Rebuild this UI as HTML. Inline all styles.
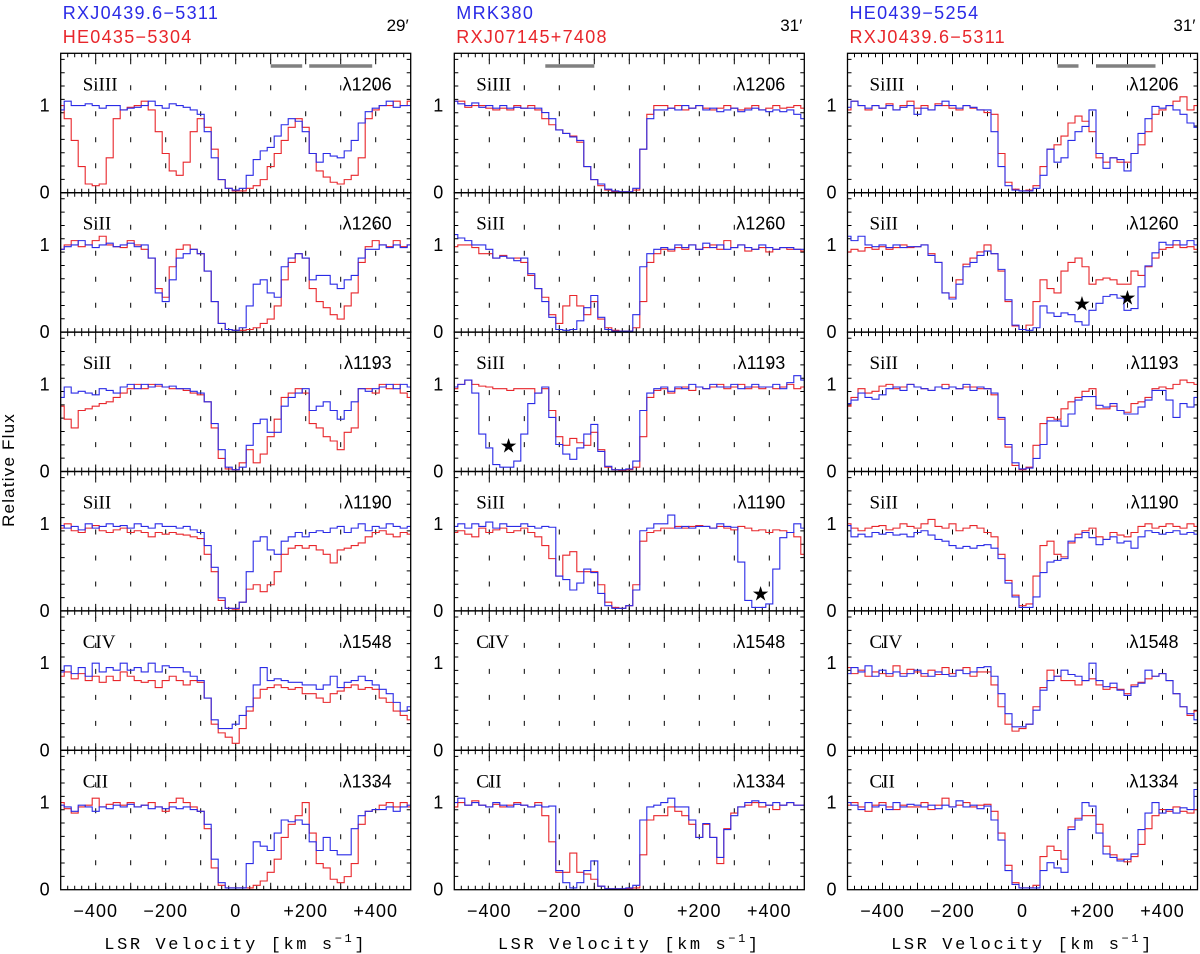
<!DOCTYPE html>
<html><head><meta charset="utf-8">
<style>
html,body{margin:0;padding:0;background:#fff;}
svg{display:block;font-family:"Liberation Sans",sans-serif;}
</style></head>
<body>
<svg id="chart" width="1200" height="954" viewBox="0 0 1200 954" xmlns="http://www.w3.org/2000/svg"></svg>
<script>
// ---- data ----
const velStart = -500; const velStep = 20;
const xTicks = [-400,-200,0,200,400];
const xTickLabels = ["\u2212400","\u2212200","0","+200","+400"];
const ions = ["SiIII","SiII","SiII","SiII","CIV","CII"];
const lines = ["\u03bb1206","\u03bb1260","\u03bb1193","\u03bb1190","\u03bb1548","\u03bb1334"];
const blueNames = ["RXJ0439.6\u22125311","MRK380","HE0439\u22125254"];
const redNames = ["HE0435\u22125304","RXJ07145+7408","RXJ0439.6\u22125311"];
const seps = ["29\u2032","31\u2032","31\u2032"];

const c1r1B=[0.95,1.05,1.0,1.0,1.02,1.0,0.97,1.0,1.0,0.95, 0.97,0.98,1.0,1.05,1.0,0.97,1.02,1.0,0.98,0.95, 0.9,0.7,0.4,0.15,0.05, 0.03, 0.05,0.2,0.38,0.48,0.52,0.65,0.78,0.85,0.82,0.7, 0.45,0.35,0.45,0.42,0.4,0.48,0.6,0.8,0.93,0.97, 1.0,1.05,0.98,1.0,1.0];
const c1r1R=[1.0,0.85,0.6,0.3,0.1,0.08,0.1,0.4,0.85,0.95, 0.98,1.0,1.05,0.95,0.7,0.45,0.25,0.2,0.35,0.7, 0.85,0.75,0.5,0.15,0.05, 0.02, 0.02,0.05,0.08,0.15,0.3,0.45,0.6,0.75,0.85,0.75, 0.45,0.25,0.18,0.12,0.1,0.15,0.2,0.4,0.85,0.95, 1.0,1.0,1.05,1.0,1.05];
const c1r2B=[0.95,0.98,1.0,1.05,1.0,0.97,1.0,1.02,0.98,1.0, 1.02,0.98,1.0,0.85,0.45,0.35,0.6,0.85,0.9,0.95, 0.9,0.7,0.35,0.1,0.03, 0.02, 0.05,0.3,0.55,0.6,0.45,0.4,0.75,0.85,0.9,0.85, 0.6,0.65,0.65,0.55,0.5,0.6,0.65,0.85,0.95,0.95, 1.0,0.97,1.0,0.97,1.0];
const c1r2R=[0.95,1.0,1.05,0.98,1.0,1.05,1.1,1.0,0.98,0.97, 1.05,1.0,0.95,0.85,0.5,0.4,0.75,0.95,1.0,0.95, 0.9,0.7,0.35,0.1,0.03, 0.02, 0.02,0.03,0.05,0.1,0.15,0.3,0.6,0.8,0.9,0.85, 0.5,0.35,0.28,0.2,0.15,0.3,0.45,0.8,0.98,1.05, 1.0,0.98,1.05,0.98,1.0];
const c1r3B=[0.85,0.97,0.9,0.92,0.9,0.88,0.95,0.93,0.9,0.97, 1.0,0.95,1.0,0.97,1.0,0.97,0.98,0.95,0.95,0.92, 0.9,0.8,0.55,0.25,0.05, 0.02, 0.05,0.3,0.55,0.6,0.45,0.45,0.75,0.85,0.9,0.95, 0.7,0.75,0.8,0.7,0.6,0.7,0.8,0.95,0.92,0.95, 0.97,1.0,0.95,1.0,0.97];
const c1r3R=[0.75,0.6,0.5,0.7,0.72,0.75,0.78,0.8,0.85,0.9, 0.95,1.0,0.95,1.0,0.98,0.97,0.95,0.95,0.93,0.9, 0.88,0.8,0.5,0.15,0.03, 0.02, 0.1,0.25,0.1,0.2,0.4,0.6,0.85,0.9,0.95,0.9, 0.55,0.5,0.4,0.35,0.25,0.45,0.5,0.95,0.95,0.9, 1.0,0.95,1.0,0.9,0.85];
const c1r4B=[0.98,0.95,0.97,0.93,1.0,0.95,0.97,1.0,0.97,0.98, 0.95,1.0,0.97,0.95,1.0,0.97,0.97,0.95,0.97,0.93, 0.9,0.75,0.5,0.15,0.03, 0.03, 0.1,0.45,0.8,0.85,0.7,0.65,0.8,0.85,0.9,0.85, 0.9,0.92,0.9,0.95,0.97,0.9,0.95,1.0,0.92,0.97, 0.95,1.0,0.97,0.95,0.97];
const c1r4R=[0.95,1.0,0.92,0.9,0.95,0.98,0.92,0.9,0.93,0.95, 0.9,0.92,0.9,0.85,0.9,0.88,0.9,0.88,0.87,0.85, 0.83,0.65,0.45,0.12,0.03, 0.02, 0.1,0.25,0.3,0.22,0.3,0.45,0.65,0.72,0.75,0.72, 0.75,0.7,0.65,0.55,0.7,0.72,0.75,0.78,0.85,0.9, 0.92,0.88,0.85,0.9,0.88];
const c1r5B=[0.9,0.97,0.88,0.95,0.85,1.0,0.9,0.95,0.92,1.0, 0.92,0.95,0.9,1.0,0.9,0.97,0.95,0.95,0.9,0.85, 0.8,0.6,0.35,0.25,0.25, 0.3, 0.4,0.5,0.75,0.95,0.8,0.82,0.8,0.78,0.78,0.75, 0.75,0.7,0.75,0.85,0.72,0.78,0.8,0.85,0.8,0.75, 0.7,0.65,0.55,0.45,0.5];
const c1r5R=[0.85,0.9,0.82,0.88,0.8,0.85,0.78,0.85,0.8,0.9, 0.85,0.8,0.78,0.8,0.72,0.8,0.85,0.8,0.75,0.8, 0.78,0.6,0.3,0.2,0.15, 0.08, 0.25,0.45,0.6,0.7,0.72,0.75,0.72,0.7,0.72,0.65, 0.65,0.6,0.55,0.65,0.68,0.72,0.75,0.7,0.72,0.7, 0.6,0.55,0.45,0.4,0.35];
const c1r6B=[0.97,0.95,0.9,0.97,0.95,0.9,0.95,0.93,0.97,0.95, 0.98,0.95,0.97,0.93,0.95,0.93,0.95,0.93,0.95,0.92, 0.9,0.75,0.35,0.08,0.02, 0.02, 0.02,0.3,0.55,0.5,0.45,0.65,0.8,0.78,0.8,0.75, 0.55,0.45,0.6,0.45,0.4,0.4,0.7,0.85,0.9,0.92, 0.92,0.95,0.9,0.95,0.97];
const c1r6R=[1.0,0.93,0.88,0.95,0.97,1.05,0.95,0.98,1.0,0.97, 1.0,0.95,0.97,1.0,0.95,0.9,1.0,1.05,1.0,0.95, 0.9,0.7,0.25,0.05,0.02, 0.02, 0.02,0.02,0.05,0.1,0.2,0.35,0.6,0.75,0.85,1.0, 0.65,0.3,0.25,0.12,0.08,0.15,0.3,0.75,0.9,0.92, 0.97,1.0,0.95,1.0,0.95];

const c2r1B=[1.05,1.02,1.0,1.03,0.98,1.0,0.97,1.0,0.97,0.98, 0.97,0.97,0.97,0.92,0.85,0.72,0.68,0.64,0.6,0.3, 0.15,0.1,0.04,0.02,0.01, 0.01, 0.05,0.5,0.85,0.95,0.95,0.97,0.95,1.0,0.97,1.0, 0.95,0.97,0.93,0.95,0.97,0.93,0.95,0.97,0.95,0.93, 0.95,0.93,0.95,0.9,0.85];
const c2r1R=[1.05,1.05,0.98,1.0,1.0,0.97,0.95,0.97,0.95,1.0, 0.97,1.0,0.95,0.85,0.78,0.72,0.68,0.65,0.58,0.3, 0.15,0.08,0.03,0.01,0.01, 0.01, 0.03,0.5,0.9,1.0,1.0,0.97,1.0,0.95,0.97,1.0, 0.97,0.95,0.97,1.0,0.97,0.95,0.97,1.0,0.95,0.97, 1.0,0.97,0.98,1.0,0.97];
const c2r2B=[1.12,1.08,1.05,1.0,1.0,0.95,0.85,0.87,0.85,0.82, 0.85,0.67,0.5,0.35,0.17,0.03,0.02,0.03,0.13,0.28, 0.42,0.17,0.03,0.01,0.01, 0.01, 0.2,0.75,0.9,0.95,0.97,0.95,1.0,0.97,1.0,0.95, 1.02,0.97,1.0,0.95,0.97,1.0,0.97,0.95,1.0,0.97, 0.95,0.97,0.97,0.95,0.95];
const c2r2R=[0.98,1.0,1.0,0.97,0.9,0.9,0.85,0.88,0.85,0.85, 0.8,0.65,0.5,0.4,0.2,0.1,0.3,0.42,0.3,0.2, 0.35,0.15,0.05,0.02,0.01, 0.01, 0.05,0.35,0.8,0.9,0.95,0.93,0.97,0.95,1.0,0.95, 0.97,1.0,0.95,1.05,0.97,1.0,0.93,0.95,0.97,0.92, 0.95,0.97,0.95,0.95,0.93];
const c2r3B=[0.97,1.0,1.05,0.9,0.43,0.27,0.08,0.05,0.05,0.12, 0.43,0.78,0.9,0.97,0.62,0.31,0.2,0.14,0.27,0.43, 0.54,0.23,0.06,0.02,0.02, 0.03, 0.12,0.7,0.9,0.95,0.97,0.92,0.97,0.95,1.0,0.97, 0.95,1.0,0.97,0.97,1.0,0.95,0.97,1.0,0.97,0.97, 1.0,0.95,1.02,1.1,1.05];
const c2r3R=[0.95,1.0,1.05,1.0,0.98,0.97,0.95,0.95,0.93,0.95, 0.95,0.95,0.9,0.95,0.7,0.4,0.3,0.38,0.33,0.3, 0.45,0.25,0.05,0.02,0.01, 0.02, 0.05,0.4,0.85,0.93,0.95,0.9,0.95,0.97,0.93,0.97, 0.95,0.97,1.0,0.95,0.97,1.0,0.95,0.97,0.95,0.97, 0.95,0.97,1.0,0.95,0.97];
const c2r4B=[0.97,1.0,0.95,1.0,0.97,1.02,0.95,1.0,0.97,0.97, 1.0,0.97,0.95,0.97,0.96,0.4,0.36,0.24,0.32,0.48, 0.44,0.2,0.06,0.03,0.03, 0.06, 0.24,0.92,0.95,1.0,1.0,1.1,0.95,0.97,0.95,0.97, 0.97,0.95,1.0,0.97,0.96,0.56,0.12,0.04,0.04,0.08, 0.48,0.84,0.9,1.0,0.95];
const c2r4R=[0.9,0.92,0.88,0.85,0.95,0.9,0.93,0.95,0.9,0.92, 0.95,0.9,0.85,0.75,0.6,0.4,0.64,0.68,0.45,0.45, 0.45,0.3,0.1,0.04,0.03, 0.06, 0.3,0.8,0.9,0.92,0.95,0.95,0.97,0.95,0.97,0.98, 0.97,0.95,0.97,0.95,0.93,0.97,0.95,0.92,0.93,0.9, 0.93,0.92,0.9,0.85,0.65];
const c2r5B=[];
const c2r5R=[];
const c2r6B=[1.0,1.05,0.97,1.0,0.97,0.95,1.0,0.97,0.95,0.98, 0.97,0.95,0.97,0.95,0.96,0.22,0.08,0.02,0.08,0.22, 0.33,0.04,0.01,0.01,0.01, 0.02, 0.05,0.8,0.95,0.97,1.0,1.05,0.95,0.95,0.8,0.6, 0.76,0.6,0.37,0.69,0.85,0.95,1.0,1.02,1.0,0.97, 1.0,0.97,1.0,0.97,0.97];
const c2r6R=[0.95,1.0,0.97,1.02,0.97,0.95,0.98,0.95,0.97,1.0, 0.97,0.95,1.0,0.85,0.55,0.2,0.2,0.42,0.2,0.18, 0.12,0.04,0.01,0.01,0.01, 0.01, 0.02,0.4,0.8,0.85,0.85,0.95,0.9,0.85,0.75,0.6, 0.75,0.6,0.3,0.7,0.88,0.95,0.97,1.0,0.95,0.97, 0.92,0.97,1.0,0.97,0.97];

const c3r1B=[0.98,1.05,1.0,0.97,1.0,0.97,1.0,0.95,0.98,1.0, 0.9,0.97,0.95,1.0,1.05,1.0,0.97,1.0,0.98,0.95, 0.95,0.7,0.3,0.08,0.03, 0.02, 0.02,0.05,0.2,0.5,0.35,0.4,0.6,0.7,0.76,0.95, 0.45,0.28,0.4,0.38,0.25,0.45,0.68,0.85,0.99,0.97, 1.0,0.95,0.9,0.8,0.75];
const c3r1R=[0.95,1.05,1.0,0.95,1.0,0.97,1.02,0.95,1.0,1.05, 0.97,1.0,0.95,1.02,1.0,0.97,0.95,1.0,0.97,0.95, 0.92,0.9,0.45,0.12,0.04, 0.02, 0.03,0.08,0.3,0.5,0.55,0.65,0.8,0.88,0.82,0.7, 0.4,0.35,0.4,0.35,0.35,0.45,0.55,0.7,0.9,0.95, 1.0,1.05,1.1,0.95,1.0];
const c3r2B=[1.1,1.05,1.1,1.0,0.98,1.0,0.97,1.0,0.97,0.98, 0.98,1.0,0.88,0.8,0.45,0.38,0.55,0.75,0.8,0.88, 0.93,0.9,0.72,0.37,0.08, 0.03, 0.02,0.05,0.3,0.22,0.18,0.22,0.2,0.12,0.08,0.25, 0.33,0.41,0.43,0.39,0.25,0.27,0.52,0.76,0.91,1.03, 1.0,1.05,1.0,1.05,1.0];
const c3r2R=[0.92,0.95,0.93,0.97,0.95,0.98,0.95,0.97,1.0,0.97, 0.98,1.0,0.9,0.8,0.45,0.4,0.6,0.78,0.85,0.92, 1.0,0.9,0.7,0.35,0.07, 0.03, 0.08,0.35,0.6,0.5,0.45,0.7,0.8,0.85,0.75,0.55, 0.6,0.62,0.6,0.55,0.55,0.7,0.65,0.75,0.85,0.95, 0.97,1.0,0.97,0.98,0.95];
const c3r3B=[0.78,0.82,0.9,0.85,0.83,0.88,0.95,0.97,0.93,1.0, 0.97,0.95,0.93,0.97,0.95,0.97,0.95,1.0,0.93,0.97, 0.95,0.9,0.62,0.31,0.1, 0.03, 0.04,0.15,0.31,0.58,0.58,0.52,0.66,0.82,0.86,0.86, 0.76,0.74,0.78,0.7,0.66,0.66,0.74,0.82,0.93,0.93, 0.82,0.62,0.78,0.74,0.85];
const c3r3R=[0.75,0.85,0.95,0.9,0.92,0.98,1.0,0.95,0.97,1.0, 0.97,0.95,0.93,0.97,1.0,0.97,0.95,0.97,0.97,0.95, 0.95,0.88,0.6,0.28,0.07, 0.02, 0.05,0.3,0.55,0.62,0.6,0.72,0.8,0.85,0.92,0.95, 0.72,0.72,0.75,0.7,0.68,0.78,0.8,0.85,0.95,0.97, 0.95,1.0,1.05,1.02,1.0];
const c3r4B=[0.98,0.85,0.88,0.85,0.9,0.88,0.9,0.87,0.88,0.85, 0.9,0.92,0.87,0.82,0.8,0.75,0.72,0.74,0.72,0.75, 0.76,0.72,0.6,0.32,0.16, 0.04, 0.04,0.16,0.44,0.56,0.58,0.6,0.8,0.84,0.9,0.84, 0.76,0.82,0.85,0.78,0.8,0.72,0.85,0.92,0.9,0.88, 0.9,0.92,0.88,0.9,0.88];
const c3r4R=[1.0,0.95,0.92,0.95,0.97,0.98,0.93,0.95,1.0,0.97, 0.95,1.0,1.05,0.97,0.95,1.0,0.92,0.95,0.98,0.95, 0.9,0.85,0.65,0.35,0.18, 0.06, 0.08,0.4,0.75,0.8,0.65,0.62,0.78,0.88,0.92,0.95, 0.85,0.82,0.9,0.87,0.85,0.9,0.97,1.0,0.95,0.97, 1.0,0.97,0.95,1.0,0.97];
const c3r5B=[0.88,0.95,0.9,0.97,0.85,0.92,0.88,0.9,0.85,0.88, 0.92,0.88,0.85,0.9,0.87,0.85,0.92,0.88,0.9,0.95, 0.96,0.85,0.65,0.42,0.27, 0.27, 0.3,0.46,0.69,0.8,0.85,0.92,0.87,0.85,0.8,1.0, 0.8,0.73,0.77,0.69,0.63,0.73,0.77,0.92,0.85,0.88, 0.8,0.65,0.5,0.42,0.35];
const c3r5R=[0.95,0.88,0.92,0.85,0.9,0.88,0.85,0.97,0.88,0.93, 0.9,0.85,0.92,0.87,0.95,0.88,0.92,0.95,0.85,0.9, 0.9,0.75,0.5,0.3,0.22, 0.25, 0.3,0.5,0.72,0.92,0.85,0.8,0.8,0.75,0.8,0.82, 0.75,0.7,0.72,0.7,0.65,0.75,0.78,0.82,0.85,0.88, 0.8,0.65,0.5,0.4,0.45];
const c3r6B=[1.0,0.97,0.92,1.0,0.95,0.97,0.92,1.0,0.95,0.98, 0.97,0.95,0.97,0.93,0.97,0.95,1.02,0.95,0.97,0.93, 0.96,0.8,0.57,0.22,0.06, 0.02, 0.02,0.02,0.22,0.31,0.25,0.2,0.69,0.8,1.0,0.96, 0.65,0.41,0.37,0.33,0.35,0.41,0.69,0.88,1.0,0.88, 0.92,0.88,0.94,0.92,1.15];
const c3r6R=[0.97,1.0,0.95,0.9,0.97,1.0,0.95,0.92,0.97,0.95, 0.95,1.0,0.92,0.97,1.05,0.95,0.97,1.0,0.95,0.97, 0.98,0.9,0.65,0.28,0.08, 0.02, 0.02,0.05,0.38,0.5,0.45,0.35,0.72,0.82,0.85,0.85, 0.75,0.5,0.4,0.35,0.32,0.38,0.52,0.7,0.85,0.92, 0.9,0.95,0.9,0.88,0.92];

const blueSeries=[[c1r1B,c1r2B,c1r3B,c1r4B,c1r5B,c1r6B],[c2r1B,c2r2B,c2r3B,c2r4B,c2r5B,c2r6B],[c3r1B,c3r2B,c3r3B,c3r4B,c3r5B,c3r6B]];
const redSeries=[[c1r1R,c1r2R,c1r3R,c1r4R,c1r5R,c1r6R],[c2r1R,c2r2R,c2r3R,c2r4R,c2r5R,c2r6R],[c3r1R,c3r2R,c3r3R,c3r4R,c3r5R,c3r6R]];
const barRanges=[[[100,190],[210,390]],[[-240,-100]],[[100,160],[210,380]]];
const starMarks=[[1,2,-345,0.3],[1,3,375,0.2],[2,1,170,0.33],[2,1,300,0.4]];

// ---- layout ----
const NS="http://www.w3.org/2000/svg";
const svg=document.getElementById('chart');
const colLeft=[60.7,454.3,847.5], panelW=350, topY=53.3, rowH=139.4, yMax=1.6;
function xS(c,v){return colLeft[c]+(v+500)/1000*panelW;}
function yS(r,f){return topY+(r+1)*rowH-f/yMax*rowH;}
function mk(tag,attrs,parent){const e=document.createElementNS(NS,tag);for(const k in attrs)e.setAttribute(k,attrs[k]);(parent||svg).appendChild(e);return e;}
function txt(s,attrs,parent){const e=mk('text',attrs,parent);e.textContent=s;return e;}

const defs=mk('defs',{});
for(let c=0;c<3;c++){for(let r=0;r<6;r++){
  const cp=mk('clipPath',{id:'clip'+c+'_'+r},defs);
  mk('rect',{x:colLeft[c],y:topY+r*rowH,width:panelW,height:rowH},cp);
}}

function stepPath(c,r,arr){
  let d='';
  for(let i=0;i<arr.length;i++){
    const v=velStart+i*velStep;
    const x0=xS(c,v-velStep/2),x1=xS(c,v+velStep/2),y=yS(r,arr[i]);
    d+=(i===0?'M':'L')+x0.toFixed(2)+','+y.toFixed(2)+'L'+x1.toFixed(2)+','+y.toFixed(2);
  }
  return d;
}

for(let c=0;c<3;c++){
  const col=mk('g',{});
  
  
  const L=colLeft[c],R=L+panelW;
  let t=txt(blueNames[c],{x:L+2,y:19,fill:'#2a2ae6','font-size':18,'letter-spacing':'1.3'},col);
  
  t=txt(redNames[c],{x:L+2,y:43,fill:'#e8262b','font-size':18,'letter-spacing':'1.3'},col);
  
  t=txt(seps[c],{x:R-2,y:31,fill:'#000','font-size':17,'text-anchor':'end'},col);
  

  for(let r=0;r<6;r++){
    const g=mk('g',{},col);
    
    
    const T=topY+r*rowH,B=T+rowH;
    for(let v=-400;v<=400;v+=100){
      const dl=mk('line',{x1:xS(c,v),x2:xS(c,v),y1:T+6,y2:B,stroke:'#000','stroke-width':1,'stroke-dasharray':'5 21'},g);
      
    }
    let td='';
    for(let v=-480;v<=480;v+=20){
      const len=(v%100===0)?7:4;const x=xS(c,v).toFixed(2);
      td+='M'+x+','+B+'v'+(-len)+'M'+x+','+T+'v'+len;
    }
    for(let k=1;k*13.33<rowH;k++){
      const y=(B-k*13.33).toFixed(2);
      td+='M'+L+','+y+'h4M'+R+','+y+'h-4';
    }
    const ticks=mk('path',{d:td,stroke:'#000','stroke-width':1,fill:'none'},g);
    
    const bs=blueSeries[c][r],rs=redSeries[c][r];
    if(rs.length){
      const p=mk('path',{d:stepPath(c,r,rs),stroke:'#e8262b','stroke-width':1.1,fill:'none','clip-path':'url(#clip'+c+'_'+r+')'},g);
      
    }
    if(bs.length){
      const p=mk('path',{d:stepPath(c,r,bs),stroke:'#2a2ae6','stroke-width':1.1,fill:'none','clip-path':'url(#clip'+c+'_'+r+')'},g);
      
    }
    const bd=mk('rect',{x:L,y:T,width:panelW,height:rowH,fill:'none',stroke:'#000','stroke-width':1.3},g);
    
    t=txt(ions[r],{x:L+22,y:T+37,'font-family':'"Liberation Serif",serif','font-size':19,fill:'#000'},g);
    
    t=txt(lines[r],{x:R-19,y:T+37,'font-size':18,fill:'#000','text-anchor':'end'},g);
    
    t=txt('1',{x:L-11,y:yS(r,1)+6,'font-size':18,'text-anchor':'end'},g);
    
    t=txt('0',{x:L-11,y:B+6,'font-size':18,'text-anchor':'end'},g);
    
  }
  for(const br of barRanges[c]){
    const b=mk('line',{x1:xS(c,br[0]),x2:xS(c,br[1]),y1:66,y2:66,stroke:'#808080','stroke-width':3.5},col);
    
  }
  for(let i=0;i<xTicks.length;i++){
    t=txt(xTickLabels[i],{x:xS(c,xTicks[i]),y:917,'font-size':18,'text-anchor':'middle','letter-spacing':'1'},col);
    
  }
  t=mk('text',{x:L+panelW/2,y:949,'font-size':17,'text-anchor':'middle','letter-spacing':'2.6','font-family':'"Liberation Mono","Liberation Sans",monospace'},col);
  
  t.textContent='LSR Velocity [km s';
  const sup=mk('tspan',{dy:-7,'font-size':12},t);sup.textContent='\u22121';
  const cl=mk('tspan',{dy:7},t);cl.textContent=']';
}
for(const s of starMarks){
  const st=txt('\u2605',{x:xS(s[0],s[2]),y:yS(s[1],s[3])+7,'font-size':20,'text-anchor':'middle',fill:'#000','font-family':'"DejaVu Sans",sans-serif'});
  
  
}
const yt=txt('Relative Flux',{x:14,y:470,'font-size':17,'text-anchor':'middle','letter-spacing':'1.2',transform:'rotate(-90 14 470)'});


</script>
</body></html>
